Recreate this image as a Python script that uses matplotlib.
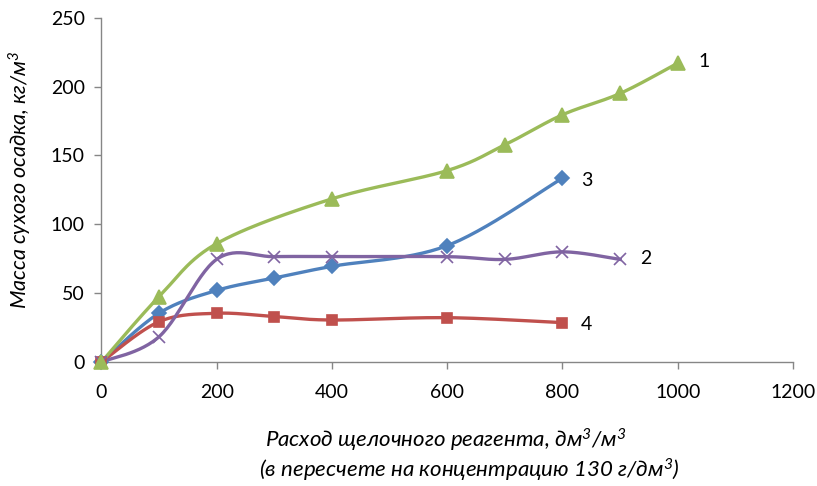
"""
Масса сухого осадка от расхода щелочного реагента
"""
import numpy as np
import matplotlib
matplotlib.use('Agg')
import matplotlib.pyplot as plt

plt.rcParams['font.family'] = ['Lato', 'DejaVu Sans']
plt.rcParams['mathtext.fontset'] = 'custom'
plt.rcParams['mathtext.rm'] = 'Lato:italic'
plt.rcParams['mathtext.it'] = 'Lato:italic'

# Данные
x1 = [0, 100, 200, 400, 600, 700, 800, 900, 1000]
y1 = [0, 47.5, 86, 118.5, 139, 157.7, 179.5, 195, 217]

x2 = [0, 100, 200, 300, 400, 600, 700, 800, 900]
y2 = [0, 18.4, 74.6, 76.5, 76.5, 76.5, 74.5, 80, 74.5]

x3 = [0, 100, 200, 300, 400, 600, 800]
y3 = [0, 35.5, 52, 61, 69.5, 84.5, 133.5]

x4 = [0, 100, 200, 300, 400, 600, 800]
y4 = [0, 29.3, 35.4, 33, 30.5, 32.2, 28.6]

xticks = [0, 200, 400, 600, 800, 1000, 1200]
yticks = [0, 50, 100, 150, 200, 250]


def smooth(xs, ys, n=30):
    """Сглаживание как в Excel (кривые Безье через соседние точки)"""
    p = np.column_stack([xs, ys]).astype(float)
    out = [p[0]]
    for i in range(len(p) - 1):
        p0 = p[i - 1] if i > 0 else p[i]
        p1 = p[i]
        p2 = p[i + 1]
        p3 = p[i + 2] if i + 2 < len(p) else p[i + 1]
        c1 = p1 + (p2 - p0) / 6.0
        c2 = p2 - (p3 - p1) / 6.0
        t = np.linspace(0, 1, n)[1:, None]
        seg = ((1 - t) ** 3 * p1 + 3 * (1 - t) ** 2 * t * c1
               + 3 * (1 - t) * t ** 2 * c2 + t ** 3 * p2)
        out.extend(seg)
    out = np.array(out)
    return out[:, 0], out[:, 1]


W, H = 817, 486
fig = plt.figure(figsize=(W / 100, H / 100), dpi=100)
ax = fig.add_axes([0.1242, 0.2551, 0.8464, 0.7085])

series = [
    (x3, y3, '#4F81BD', 'D', 7, '3'),
    (x4, y4, '#C0504D', 's', 7, '4'),
    (x2, y2, '#8064A2', 'x', 9, '2'),
    (x1, y1, '#9BBB59', '^', 10, '1'),
]

for xs, ys, col, mk, ms, lab in series:
    sx, sy = smooth(xs, ys)
    ax.plot(sx, sy, color=col, linewidth=2.4, clip_on=False, zorder=3)
    ax.plot(xs, ys, linestyle='none', marker=mk, markersize=ms, color=col,
            markeredgecolor=col, markeredgewidth=1.2, clip_on=False, zorder=4)

# подписи кривых
ax.text(1045, 218, '1', fontsize=14, va='center', ha='center')
ax.text(944, 75.5, '2', fontsize=14, va='center', ha='center')
ax.text(843, 132, '3', fontsize=14, va='center', ha='center')
ax.text(842, 27, '4', fontsize=14, va='center', ha='center')

ax.set_xlim(0, 1200)
ax.set_ylim(0, 250)
ax.set_xticks(xticks)
ax.set_yticks(yticks)
ax.tick_params(labelsize=14, color='#868686', length=5, width=1)
ax.tick_params(axis='x', pad=11)
ax.tick_params(axis='y', pad=7)

for side in ['top', 'right']:
    ax.spines[side].set_visible(False)
for side in ['left', 'bottom']:
    ax.spines[side].set_color('#868686')
    ax.spines[side].set_linewidth(1)

# подписи осей
fig.text(446 / W, 1 - 440 / H, 'Расход щелочного реагента, дм$^3$/м$^3$',
         fontsize=16, style='italic', ha='center', va='center')
fig.text(469 / W, 1 - 470 / H, '(в пересчете на концентрацию 130 г/дм$^3$)',
         fontsize=16, style='italic', ha='center', va='center')
fig.text(20 / W, 1 - 180 / H, 'Масса сухого осадка, кг/м$^3$',
         fontsize=15.5, style='italic', ha='center', va='center', rotation=90)

plt.savefig('out.png', dpi=100)
plt.close()
